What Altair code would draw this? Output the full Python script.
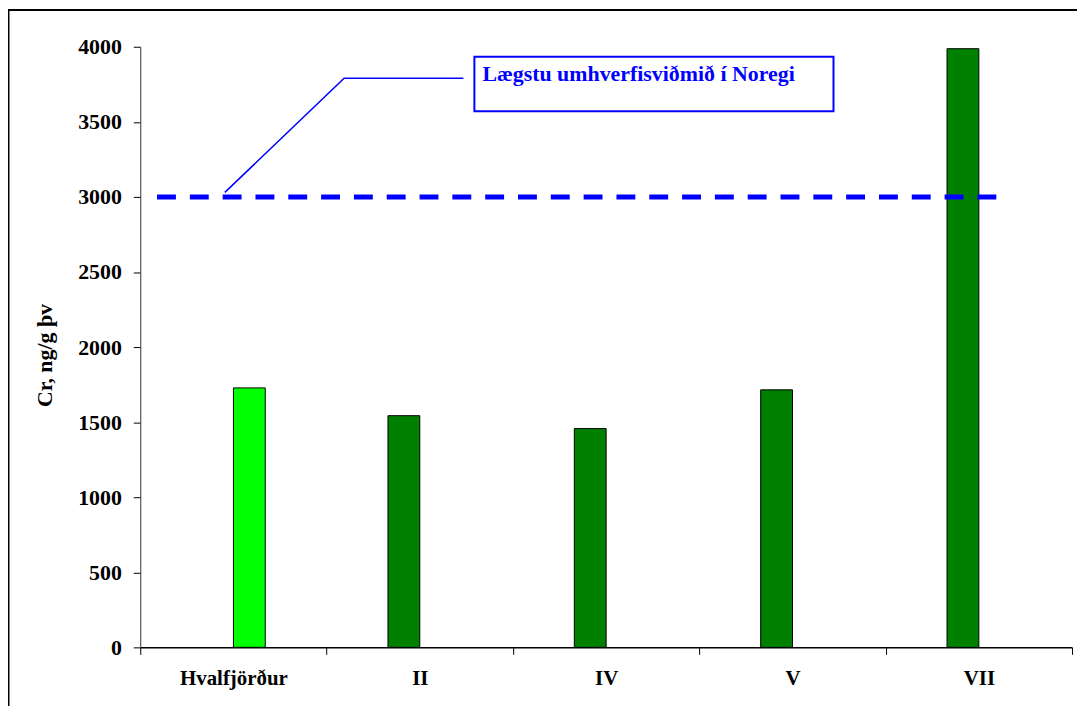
import altair as alt
import pandas as pd

# ---- data ----
sites = ["Hvalfjörður", "II", "IV", "V", "VII"]
values = [1728, 1543, 1457, 1715, 3987]
series = ["light", "dark", "dark", "dark", "dark"]
# empty slots either side keep the clustered bars narrow, as in the original
series_order = ["_a", "dark", "light", "_b"]
series_colors = ["#ffffff", "#008000", "#00FF00", "#ffffff"]
y_ticks = [0, 500, 1000, 1500, 2000, 2500, 3000, 3500, 4000]
y_title = "Cr, ng/g þv"

ref_value = 3000
ref_label = "Lægstu umhverfisviðmið í Noregi"
# annotation geometry in category-index units (0..5) and value units
ref_x = [0.09, 4.6]
callout_x = [0.454, 1.094, 1.734]
callout_y = [3030, 3790, 3790]
box_x = [1.793, 3.72]
box_y = [3570, 3934]
label_pos = [1.836, 3772]

FONT = "Liberation Serif"
W, H = 937, 604

df = pd.DataFrame({"site": sites, "value": values, "series": series})

yscale = alt.Scale(domain=[0, 4000], nice=False)
ann_x = alt.Scale(domain=[0, 5], nice=False, zero=False)

bars = alt.Chart(df).mark_bar(stroke="black", strokeWidth=1).encode(
    x=alt.X("site:N", sort=sites,
            scale=alt.Scale(domain=sites, paddingInner=0, paddingOuter=0),
            axis=alt.Axis(title=None, labelAngle=0, labelFont=FONT, labelFontWeight="bold",
                          labelFontSize=21, labelColor="black", tickBand="extent",
                          tickSize=7, tickColor="black", domainColor="black",
                          domainWidth=1.5, labelPadding=13)),
    xOffset=alt.XOffset("series:N", scale=alt.Scale(domain=series_order, paddingInner=0, paddingOuter=0.928)),
    y=alt.Y("value:Q", scale=yscale,
            axis=alt.Axis(values=y_ticks, format="d", grid=False, title=y_title, labelFont=FONT,
                          labelFontWeight="bold", labelFontSize=22, labelColor="black",
                          tickSize=7, tickColor="black", domainColor="#333333",
                          labelPadding=12, titleFont=FONT, titleFontWeight="bold",
                          titleFontSize=22, titleColor="black", titleAngle=-90,
                          titleX=-96, titleY=310, titleBaseline="middle", titleAlign="center")),
    color=alt.Color("series:N", scale=alt.Scale(domain=series_order, range=series_colors), legend=None),
)

ref_df = pd.DataFrame({"x0": [ref_x[0]], "x1": [ref_x[1]], "v": [ref_value]})
ref = alt.Chart(ref_df).mark_rule(color="#0000FF", strokeWidth=5, strokeDash=[19, 14]).encode(
    x=alt.X("x0:Q", scale=ann_x, axis=None),
    x2="x1:Q",
    y=alt.Y("v:Q", scale=yscale, axis=None),
)

call_df = pd.DataFrame({"cx": callout_x, "cy": callout_y, "o": [0, 1, 2]})
callout = alt.Chart(call_df).mark_line(color="#0000FF", strokeWidth=1.5).encode(
    x=alt.X("cx:Q", scale=ann_x, axis=None),
    y=alt.Y("cy:Q", scale=yscale, axis=None),
    order="o:O",
)

box_df = pd.DataFrame({"bx0": [box_x[0]], "bx1": [box_x[1]], "by0": [box_y[0]], "by1": [box_y[1]]})
box = alt.Chart(box_df).mark_rect(fill="white", stroke="#0000FF", strokeWidth=2).encode(
    x=alt.X("bx0:Q", scale=ann_x, axis=None),
    x2="bx1:Q",
    y=alt.Y("by0:Q", scale=yscale, axis=None),
    y2="by1:Q",
)

txt_df = pd.DataFrame({"tx": [label_pos[0]], "ty": [label_pos[1]], "t": [ref_label]})
txt = alt.Chart(txt_df).mark_text(align="left", baseline="alphabetic", font=FONT,
                                  fontWeight="bold", fontSize=22, color="#0000FF").encode(
    x=alt.X("tx:Q", scale=ann_x, axis=None),
    y=alt.Y("ty:Q", scale=yscale, axis=None),
    text="t:N",
)

frame_df = pd.DataFrame({"k": [0]})
frame = alt.Chart(frame_df).mark_rect(fill="white", fillOpacity=0, stroke="black", strokeWidth=2).encode(
    x=alt.value(-132.5), x2=alt.value(2000), y=alt.value(-37), y2=alt.value(2000),
)

chart = alt.layer(frame, bars, ref, callout, box, txt).resolve_scale(
    x="independent"
).resolve_axis(
    y="independent"
).properties(
    width=W, height=H,
    autosize=alt.AutoSizeParams(type="none"),
    padding={"left": 133, "top": 37, "right": 5, "bottom": 57},
    background="white",
).configure_view(stroke=None)

chart.save("out.html", embed_options={"renderer": "svg", "actions": False})
